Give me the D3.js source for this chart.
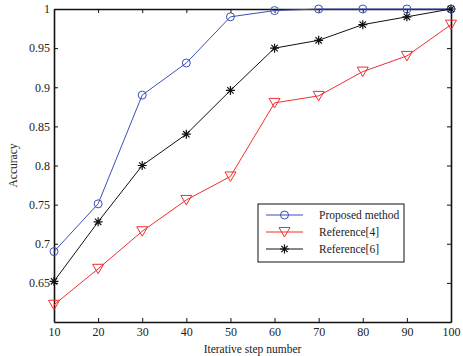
<!DOCTYPE html>
<html>
<head>
<meta charset="utf-8">
<script src="https://cdn.jsdelivr.net/npm/d3@7"></script>
<style>
  body { margin: 0; background: #fff; }
  svg text { font-family: "Liberation Serif", "DejaVu Serif", serif; fill: #222; }
</style>
</head>
<body>
<svg id="chart" width="463" height="356"></svg>
<script>
const steps = [10, 20, 30, 40, 50, 60, 70, 80, 90, 100];
const proposed = [0.690, 0.751, 0.890, 0.931, 0.990, 0.998, 1.000, 1.000, 1.000, 1.000];
const ref4 = [0.622, 0.668, 0.716, 0.756, 0.786, 0.880, 0.889, 0.920, 0.940, 0.980];
const ref6 = [0.652, 0.728, 0.800, 0.840, 0.896, 0.950, 0.960, 0.980, 0.990, 1.000];
const yTicks = [0.65, 0.7, 0.75, 0.8, 0.85, 0.9, 0.95, 1];
const seriesNames = ['Proposed method', 'Reference[4]', 'Reference[6]'];

const svg = d3.select('#chart');
const margin = { left: 54, top: 9, right: 12, bottom: 34 };
const W = 463, H = 356;
const x = d3.scaleLinear().domain([10, 100]).range([margin.left, W - margin.right]);
const y = d3.scaleLinear().domain([0.6, 1]).range([H - margin.bottom, margin.top]);

const series = [
  { name: seriesNames[0], values: proposed, color: '#3a4fb8', marker: 'circle' },
  { name: seriesNames[1], values: ref4, color: '#ee3030', marker: 'tri' },
  { name: seriesNames[2], values: ref6, color: '#111', marker: 'star' }
];

// axes (ticks inward, boxed)
const fmt = d => d3.format('')(+d.toFixed(2));
svg.append('g').attr('transform', `translate(0,${y(0.6)})`)
  .call(d3.axisBottom(x).tickValues(steps).tickSizeInner(-4).tickSizeOuter(0).tickPadding(5))
  .call(g => g.selectAll('text').style('font-size', '12px'));
svg.append('g').attr('transform', `translate(0,${y(1)})`)
  .call(d3.axisTop(x).tickValues(steps).tickSizeInner(-4).tickSizeOuter(0).tickFormat(''));
svg.append('g').attr('transform', `translate(${x(10)},0)`)
  .call(d3.axisLeft(y).tickValues(yTicks).tickSizeInner(-4).tickSizeOuter(0).tickPadding(4).tickFormat(fmt))
  .call(g => g.selectAll('text').style('font-size', '12px'));
svg.append('g').attr('transform', `translate(${x(100)},0)`)
  .call(d3.axisRight(y).tickValues(yTicks).tickSizeInner(-4).tickSizeOuter(0).tickFormat(''));
svg.selectAll('.domain').attr('stroke', '#111').attr('stroke-width', 1.6);
svg.selectAll('.tick line').attr('stroke', '#111');

svg.append('text').attr('x', x(55)).attr('y', H - 3).attr('text-anchor', 'middle')
  .style('font-size', '11.5px').text('Iterative step number');
svg.append('text').attr('transform', `translate(17,${(y(0.6) + y(1)) / 2}) rotate(-90)`)
  .attr('text-anchor', 'middle').style('font-size', '11.5px').text('Accuracy');

function drawMarker(g, kind, color) {
  if (kind === 'circle') {
    g.append('circle').attr('r', 4).attr('fill', 'none').attr('stroke', color).attr('stroke-width', 1);
  } else if (kind === 'tri') {
    g.append('path').attr('d', 'M-5.5,-4.5 L5.5,-4.5 L0,5 Z').attr('fill', 'none').attr('stroke', color).attr('stroke-width', 1);
  } else {
    g.append('path').attr('d', 'M-4.5,0 L4.5,0 M0,-4.5 L0,4.5 M-3.2,-3.2 L3.2,3.2 M-3.2,3.2 L3.2,-3.2')
      .attr('stroke', color).attr('stroke-width', 1.2);
  }
}

const line = d3.line().x((d, i) => x(steps[i])).y(d => y(d));
series.forEach(s => {
  svg.append('path').datum(s.values).attr('d', line)
    .attr('fill', 'none').attr('stroke', s.color).attr('stroke-width', 1);
  s.values.forEach((v, i) => {
    const g = svg.append('g').attr('transform', `translate(${x(steps[i])},${y(v)})`);
    drawMarker(g, s.marker, s.color);
  });
});

// legend
const lg = svg.append('g').attr('transform', 'translate(258,204)');
lg.append('rect').attr('width', 146).attr('height', 58).attr('fill', '#fff')
  .attr('stroke', '#111').attr('stroke-width', 1);
series.forEach((s, i) => {
  const yy = 11 + i * 17;
  lg.append('line').attr('x1', 8).attr('x2', 45).attr('y1', yy).attr('y2', yy)
    .attr('stroke', s.color).attr('stroke-width', 1);
  const m = lg.append('g').attr('transform', `translate(26.5,${yy})`);
  drawMarker(m, s.marker, s.color);
  lg.append('text').attr('x', 61).attr('y', yy + 4).style('font-size', '11.5px').text(s.name);
});
</script>
</body>
</html>
